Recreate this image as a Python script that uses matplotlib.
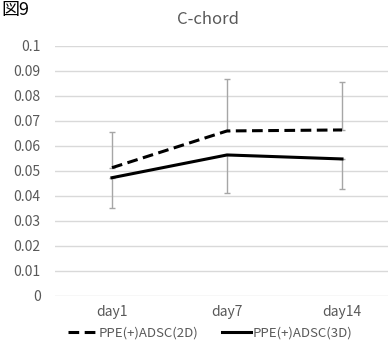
import matplotlib
matplotlib.use('Agg')
import matplotlib.pyplot as plt

plt.rcParams['font.family'] = ['Noto Sans CJK JP', 'DejaVu Sans']

days = ['day1', 'day7', 'day14']
ppe_2d = [0.0512, 0.0659, 0.0663]
ppe_2d_err_up = [0.0144, 0.0208, 0.0191]
ppe_3d = [0.0472, 0.0563, 0.0547]
ppe_3d_err_down = [0.0120, 0.0153, 0.0120]
yticks = [0, 0.01, 0.02, 0.03, 0.04, 0.05, 0.06, 0.07, 0.08, 0.09, 0.1]
ytick_labels = ['0', '0.01', '0.02', '0.03', '0.04', '0.05', '0.06', '0.07', '0.08', '0.09', '0.1']

GRAY = '#595959'
W, H = 388, 348
fig = plt.figure(figsize=(W / 100, H / 100), dpi=100, facecolor='white')
ax = fig.add_axes([54.5 / W, 1 - 295.7 / H, 345 / W, 250 / H])

x = list(range(len(days)))
zeros = [0] * len(days)
ax.errorbar(x, ppe_2d, yerr=[zeros, ppe_2d_err_up], fmt='none', ecolor='#a6a6a6',
            elinewidth=1, capsize=2.5, capthick=1, zorder=2)
ax.errorbar(x, ppe_3d, yerr=[ppe_3d_err_down, zeros], fmt='none', ecolor='#a6a6a6',
            elinewidth=1, capsize=2.5, capthick=1, zorder=2)
ax.plot(x, ppe_2d, color='black', linewidth=2.2, dashes=(3.5, 1.8),
        label='PPE(+)ADSC(2D)', zorder=3)
ax.plot(x, ppe_3d, color='black', linewidth=2.2, label='PPE(+)ADSC(3D)', zorder=3)

ax.set_xlim(-0.5, 2.5)
ax.set_ylim(0, 0.1)
ax.set_yticks(yticks)
ax.set_yticklabels(ytick_labels)
ax.set_xticks(x)
ax.set_xticklabels(days)
ax.grid(axis='y', color='#d9d9d9', linewidth=1)
ax.set_axisbelow(True)
for s in ax.spines.values():
    s.set_visible(False)
ax.tick_params(axis='both', length=0, colors=GRAY, labelsize=10)
ax.tick_params(axis='y', pad=10)
ax.tick_params(axis='x', pad=7)

fig.text(208 / W, 1 - 20 / H, 'C-chord', ha='center', va='center', fontsize=12, color=GRAY)
fig.text(1 / W, 1 - 1 / H, '図9', ha='left', va='top', fontsize=13, color='black')

leg = fig.legend(loc='center', bbox_to_anchor=(210 / W, 1 - 333 / H), ncol=2, frameon=False,
                 fontsize=9.5, handlelength=2.2, handletextpad=0.1, columnspacing=1.8,
                 labelcolor=GRAY)

fig.savefig('out.png', dpi=100)
